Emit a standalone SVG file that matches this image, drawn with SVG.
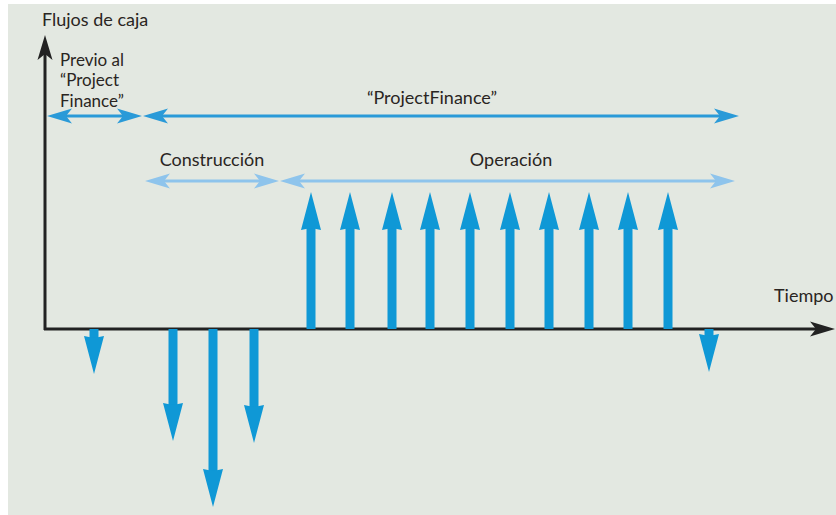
<svg xmlns="http://www.w3.org/2000/svg" xmlns:xlink="http://www.w3.org/1999/xlink" width="836" height="515" viewBox="0 0 836 515">
  <style>
    .lbl { font-family: Lato, "Open Sans", "Liberation Sans", sans-serif; font-size: 18px; fill: #2a2522; }
    .lbl-sm { font-size: 17px; }
    .axis { stroke: #222; stroke-width: 3; fill: none; }
    .span-dark { stroke: #2a9ad8; stroke-width: 3; }
    .span-light { stroke: #8ec4ec; stroke-width: 3; }
    .flow { stroke: #0f98d6; stroke-width: 9; }
  </style>
  <defs>
    <!-- notched arrowhead, tip at origin, pointing right -->
    <path id="head" d="M0,0 L-25,-7.5 L-19,0 L-25,7.5 Z"/>
    <!-- cash-flow arrowheads, tip at origin -->
    <path id="flowUp" d="M0,0 L10,38 L0,36 L-10,38 Z" fill="#0f98d6"/>
    <path id="flowDown" d="M0,0 L10,-38 L0,-36 L-10,-38 Z" fill="#0f98d6"/>
  </defs>

  <!-- background panel -->
  <rect x="0" y="0" width="836" height="515" fill="#ffffff"/>
  <rect x="8" y="4" width="828" height="511" fill="#e3e8e1"/>

  <!-- axes -->
  <g id="axes">
    <line class="axis" x1="45" y1="330" x2="45" y2="50"/>
    <use xlink:href="#head" fill="#222" transform="translate(45,35) rotate(-90)"/>
    <line class="axis" x1="44" y1="329" x2="822" y2="329"/>
    <use xlink:href="#head" fill="#222" transform="translate(835,329)"/>
    <text class="lbl" x="42" y="26">Flujos de caja</text>
    <text class="lbl" x="774" y="302">Tiempo</text>
  </g>

  <!-- phase spans -->
  <g id="span-previo">
    <line class="span-dark" x1="58" y1="116" x2="130" y2="116"/>
    <use xlink:href="#head" fill="#2a9ad8" transform="translate(47,116) rotate(180)"/>
    <use xlink:href="#head" fill="#2a9ad8" transform="translate(142,116)"/>
    <text class="lbl lbl-sm" x="60" y="65.5">Previo al<tspan x="60" dy="20.5">“Project</tspan><tspan x="60" dy="20.5">Finance”</tspan></text>
  </g>
  <g id="span-projectfinance">
    <line class="span-dark" x1="155" y1="116" x2="727" y2="116"/>
    <use xlink:href="#head" fill="#2a9ad8" transform="translate(143,116) rotate(180)"/>
    <use xlink:href="#head" fill="#2a9ad8" transform="translate(739,116)"/>
    <text class="lbl" x="432" y="104" text-anchor="middle">“ProjectFinance”</text>
  </g>
  <g id="span-construccion">
    <line class="span-light" x1="156" y1="181" x2="268" y2="181"/>
    <use xlink:href="#head" fill="#8ec4ec" transform="translate(145,181) rotate(180)"/>
    <use xlink:href="#head" fill="#8ec4ec" transform="translate(279,181)"/>
    <text class="lbl" x="212" y="166" text-anchor="middle">Construcción</text>
  </g>
  <g id="span-operacion">
    <line class="span-light" x1="291" y1="181" x2="723" y2="181"/>
    <use xlink:href="#head" fill="#8ec4ec" transform="translate(280,181) rotate(180)"/>
    <use xlink:href="#head" fill="#8ec4ec" transform="translate(735,181)"/>
    <text class="lbl" x="511" y="166" text-anchor="middle">Operación</text>
  </g>

  <!-- cash flows -->
  <g id="flows">
    <!-- outflows -->
    <line class="flow" x1="94" y1="329" x2="94" y2="340"/>
    <use xlink:href="#flowDown" transform="translate(94,374)"/>
    <line class="flow" x1="173" y1="329" x2="173" y2="406"/>
    <use xlink:href="#flowDown" transform="translate(173,441)"/>
    <line class="flow" x1="213" y1="329" x2="213" y2="472"/>
    <use xlink:href="#flowDown" transform="translate(213,507)"/>
    <line class="flow" x1="254" y1="329" x2="254" y2="408"/>
    <use xlink:href="#flowDown" transform="translate(254,443)"/>
    <line class="flow" x1="709" y1="329" x2="709" y2="338"/>
    <use xlink:href="#flowDown" transform="translate(709,372)"/>
    <!-- inflows -->
    <line class="flow" x1="311" y1="329" x2="311" y2="226"/>
    <use xlink:href="#flowUp" transform="translate(311,192)"/>
    <line class="flow" x1="350" y1="329" x2="350" y2="226"/>
    <use xlink:href="#flowUp" transform="translate(350,192)"/>
    <line class="flow" x1="392" y1="329" x2="392" y2="226"/>
    <use xlink:href="#flowUp" transform="translate(392,192)"/>
    <line class="flow" x1="430" y1="329" x2="430" y2="226"/>
    <use xlink:href="#flowUp" transform="translate(430,192)"/>
    <line class="flow" x1="470" y1="329" x2="470" y2="226"/>
    <use xlink:href="#flowUp" transform="translate(470,192)"/>
    <line class="flow" x1="510" y1="329" x2="510" y2="226"/>
    <use xlink:href="#flowUp" transform="translate(510,192)"/>
    <line class="flow" x1="549" y1="329" x2="549" y2="226"/>
    <use xlink:href="#flowUp" transform="translate(549,192)"/>
    <line class="flow" x1="589" y1="329" x2="589" y2="226"/>
    <use xlink:href="#flowUp" transform="translate(589,192)"/>
    <line class="flow" x1="628" y1="329" x2="628" y2="226"/>
    <use xlink:href="#flowUp" transform="translate(628,192)"/>
    <line class="flow" x1="668" y1="329" x2="668" y2="226"/>
    <use xlink:href="#flowUp" transform="translate(668,192)"/>
  </g>
</svg>
